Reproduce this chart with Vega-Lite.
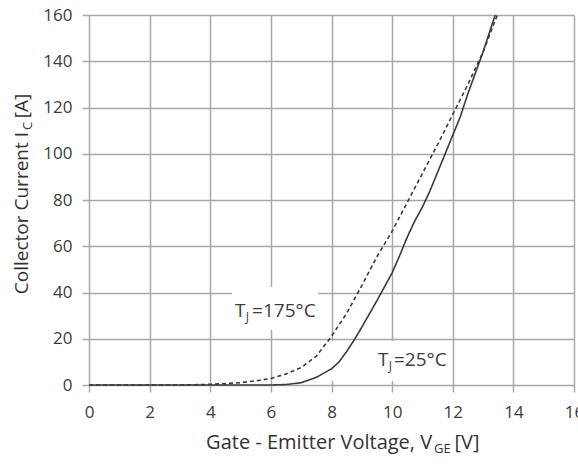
{
  "$schema": "https://vega.github.io/schema/vega-lite/v6.json",
  "width": 485,
  "height": 370,
  "autosize": {"type": "none"},
  "padding": {"left": 89, "top": 15, "right": 4, "bottom": 79},
  "background": "white",
  "config": {
    "view": {"stroke": null},
    "font": "Open Sans",
    "axis": {
      "grid": true,
      "gridColor": "#a8a8a8",
      "gridWidth": 1.5,
      "domain": false,
      "ticks": true,
      "tickSize": 7,
      "tickColor": "#a8a8a8",
      "tickWidth": 1.5,
      "labelFont": "Open Sans",
      "labelFontSize": 17,
      "labelColor": "#3c3c3c",
      "labelFlush": false,
      "labelOverlap": false,
      "title": null
    }
  },
  "encoding": {
    "x": {
      "field": "x",
      "type": "quantitative",
      "scale": {"domain": [0, 16], "nice": false, "zero": false},
      "axis": {"values": [0, 2, 4, 6, 8, 10, 12, 14, 16], "labelPadding": 12, "title": null}
    },
    "y": {
      "field": "y",
      "type": "quantitative",
      "scale": {"domain": [0, 160], "nice": false, "zero": false},
      "axis": {"values": [0, 20, 40, 60, 80, 100, 120, 140, 160], "labelPadding": 10, "title": null}
    }
  },
  "layer": [
    {
      "data": {"values": [
        {"x": 4.72, "x2": 7.56, "y": 23.8, "y2": 42.4},
        {"x": 7.62, "x2": 11.75, "y": 1.7, "y2": 19.0}
      ]},
      "mark": {"type": "rect", "fill": "white", "stroke": null},
      "encoding": {"x2": {"field": "x2"}, "y2": {"field": "y2"}}
    },
    {
      "data": {"values": [
        {"series": "175", "x": 0, "y": 0},
        {"series": "175", "x": 3, "y": 0},
        {"series": "175", "x": 4, "y": 0.3},
        {"series": "175", "x": 4.5, "y": 0.6},
        {"series": "175", "x": 5, "y": 1.0},
        {"series": "175", "x": 5.5, "y": 1.8},
        {"series": "175", "x": 6, "y": 2.8},
        {"series": "175", "x": 6.5, "y": 4.8},
        {"series": "175", "x": 7, "y": 7.5},
        {"series": "175", "x": 7.5, "y": 12.5},
        {"series": "175", "x": 8, "y": 21},
        {"series": "175", "x": 8.5, "y": 31},
        {"series": "175", "x": 9, "y": 43},
        {"series": "175", "x": 9.5, "y": 55.5},
        {"series": "175", "x": 10, "y": 66.5},
        {"series": "175", "x": 10.5, "y": 79},
        {"series": "175", "x": 11, "y": 91.5},
        {"series": "175", "x": 11.5, "y": 104},
        {"series": "175", "x": 12, "y": 117},
        {"series": "175", "x": 12.5, "y": 130},
        {"series": "175", "x": 13, "y": 144},
        {"series": "175", "x": 13.47, "y": 160},
        {"series": "25", "x": 0, "y": 0},
        {"series": "25", "x": 6, "y": 0},
        {"series": "25", "x": 6.5, "y": 0.2},
        {"series": "25", "x": 7, "y": 1},
        {"series": "25", "x": 7.5, "y": 3.3},
        {"series": "25", "x": 8, "y": 7},
        {"series": "25", "x": 8.25, "y": 10},
        {"series": "25", "x": 8.5, "y": 14.5},
        {"series": "25", "x": 8.75, "y": 19.5},
        {"series": "25", "x": 9, "y": 25},
        {"series": "25", "x": 9.5, "y": 36.5},
        {"series": "25", "x": 10, "y": 48.5},
        {"series": "25", "x": 10.25, "y": 56},
        {"series": "25", "x": 10.5, "y": 64},
        {"series": "25", "x": 10.75, "y": 71},
        {"series": "25", "x": 11, "y": 77},
        {"series": "25", "x": 11.25, "y": 84},
        {"series": "25", "x": 11.5, "y": 92},
        {"series": "25", "x": 11.75, "y": 100},
        {"series": "25", "x": 12, "y": 108},
        {"series": "25", "x": 12.25, "y": 116},
        {"series": "25", "x": 12.5, "y": 126},
        {"series": "25", "x": 12.75, "y": 135},
        {"series": "25", "x": 13, "y": 144},
        {"series": "25", "x": 13.4, "y": 160}
      ]},
      "mark": {"type": "line", "color": "#3a3a3a", "strokeWidth": 1.6},
      "encoding": {
        "detail": {"field": "series"},
        "strokeDash": {
          "field": "series",
          "type": "nominal",
          "scale": {"domain": ["25", "175"], "range": [[1, 0], [4, 3]]},
          "legend": null
        }
      }
    },
    {
      "data": {"values": [
        {"x": 4.82, "y": 29.4, "t": "T"},
        {"x": 5.38, "y": 29.4, "t": "=175°C"},
        {"x": 9.53, "y": 8.2, "t": "T"},
        {"x": 10.06, "y": 8.2, "t": "=25°C"}
      ]},
      "mark": {"type": "text", "align": "left", "baseline": "alphabetic", "fontSize": 19, "color": "#3c3c3c"},
      "encoding": {"text": {"field": "t"}}
    },
    {
      "data": {"values": [
        {"x": 5.17, "y": 27.7, "t": "J"},
        {"x": 9.89, "y": 6.5, "t": "J"}
      ]},
      "mark": {"type": "text", "align": "left", "baseline": "alphabetic", "fontSize": 12, "color": "#3c3c3c"},
      "encoding": {"text": {"field": "t"}}
    },
    {
      "data": {"values": [{"x": 11.32, "y": -27.7, "t": "Gate - Emitter Voltage, V"}]},
      "mark": {"type": "text", "align": "right", "baseline": "alphabetic", "fontSize": 20, "color": "#333333"},
      "encoding": {"text": {"field": "t"}}
    },
    {
      "data": {"values": [{"x": 12.06, "y": -27.7, "t": "[V]"}]},
      "mark": {"type": "text", "align": "left", "baseline": "alphabetic", "fontSize": 20, "color": "#333333"},
      "encoding": {"text": {"field": "t"}}
    },
    {
      "data": {"values": [{"x": 11.38, "y": -29.4, "t": "GE"}]},
      "mark": {"type": "text", "align": "left", "baseline": "alphabetic", "fontSize": 13, "color": "#333333"},
      "encoding": {"text": {"field": "t"}}
    },
    {
      "data": {"values": [{"x": -2.01, "y": 109.4, "t": "Collector Current I"}]},
      "mark": {"type": "text", "align": "right", "baseline": "alphabetic", "angle": 270, "fontSize": 19, "color": "#333333"},
      "encoding": {"text": {"field": "t"}}
    },
    {
      "data": {"values": [{"x": -1.88, "y": 110.3, "t": "C"}]},
      "mark": {"type": "text", "align": "left", "baseline": "alphabetic", "angle": 270, "fontSize": 13, "color": "#333333"},
      "encoding": {"text": {"field": "t"}}
    },
    {
      "data": {"values": [{"x": -2.01, "y": 115.4, "t": "[A]"}]},
      "mark": {"type": "text", "align": "left", "baseline": "alphabetic", "angle": 270, "fontSize": 19, "color": "#333333"},
      "encoding": {"text": {"field": "t"}}
    }
  ]
}
